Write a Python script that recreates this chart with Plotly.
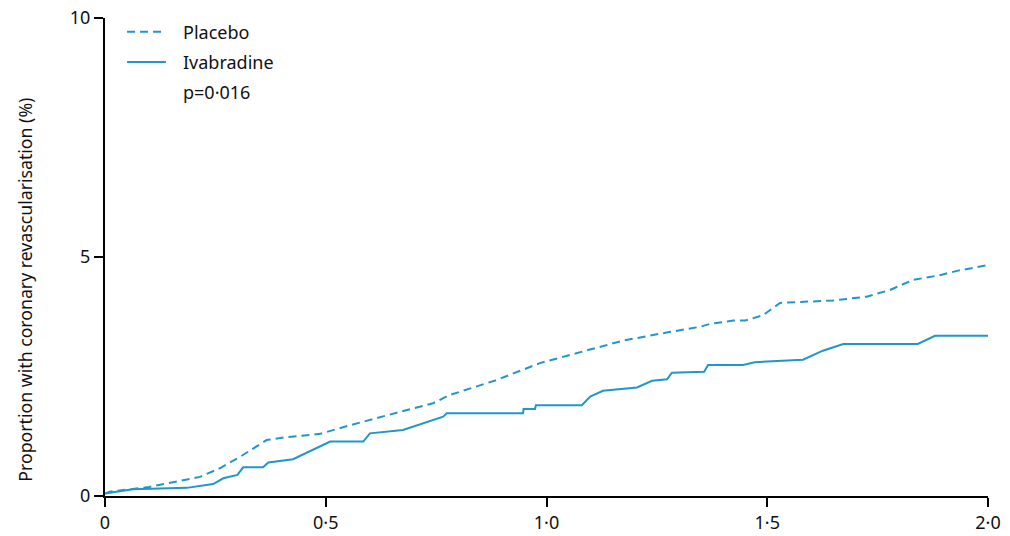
import plotly.graph_objects as go

# Years of follow-up and cumulative proportion (%)
placebo_x = [0.0, 0.011, 0.10, 0.215, 0.26, 0.306, 0.366, 0.41, 0.487, 0.555, 0.668, 0.743, 0.78,
             0.888, 0.985, 1.083, 1.173, 1.272, 1.348, 1.37, 1.423, 1.45, 1.49, 1.529, 1.649,
             1.725, 1.778, 1.83, 1.891, 1.93, 2.0]
placebo_y = [0.05, 0.09, 0.19, 0.40, 0.58, 0.82, 1.17, 1.23, 1.30, 1.48, 1.76, 1.94, 2.11,
             2.43, 2.78, 3.02, 3.25, 3.42, 3.54, 3.60, 3.67, 3.67, 3.78, 4.04, 4.09,
             4.17, 4.31, 4.52, 4.62, 4.71, 4.83]

ivab_x = [0.0, 0.011, 0.063, 0.185, 0.245, 0.268, 0.30, 0.313, 0.358, 0.37, 0.426, 0.51, 0.585,
          0.60, 0.675, 0.766, 0.774, 0.947, 0.948, 0.974, 0.976, 1.08, 1.099, 1.128, 1.205,
          1.239, 1.273, 1.284, 1.357, 1.366, 1.445, 1.472, 1.581, 1.626, 1.672, 1.841, 1.88, 2.0]
ivab_y = [0.05, 0.07, 0.14, 0.17, 0.25, 0.37, 0.44, 0.60, 0.60, 0.70, 0.77, 1.14, 1.14,
          1.31, 1.38, 1.66, 1.73, 1.73, 1.82, 1.82, 1.90, 1.90, 2.08, 2.20, 2.27,
          2.41, 2.44, 2.58, 2.60, 2.74, 2.74, 2.80, 2.85, 3.04, 3.18, 3.18, 3.35, 3.35]

x_ticks = [0, 0.5, 1.0, 1.5, 2.0]
x_tick_labels = ["0", "0·5", "1·0", "1·5", "2·0"]
y_ticks = [0, 5, 10]
y_tick_labels = ["0", "5", "10"]

series_names = ["Placebo", "Ivabradine"]
p_value_text = "p=0·016"
y_title = "Proportion with coronary revascularisation (%)"

color = "#2196c8"
font = "Noto Sans"
text_color = "#111111"

fig = go.Figure()
fig.add_trace(go.Scatter(x=placebo_x, y=placebo_y, mode="lines", name=series_names[0],
                         line=dict(color=color, width=2, dash="8px,5px"), showlegend=False))
fig.add_trace(go.Scatter(x=ivab_x, y=ivab_y, mode="lines", name=series_names[1],
                         line=dict(color=color, width=2), showlegend=False))

# Manual legend (in paper coordinates)
legend_rows = [0.971, 0.908]
dashes = ["8px,5px", "solid"]
for name, yy, dsh in zip(series_names, legend_rows, dashes):
    fig.add_shape(type="line", xref="paper", yref="paper", x0=0.025, x1=0.069, y0=yy, y1=yy,
                  line=dict(color=color, width=2, dash=dsh))
    fig.add_annotation(text=name, xref="paper", yref="paper", x=0.086, y=yy,
                       xanchor="left", yanchor="middle", showarrow=False,
                       font=dict(family=font, size=18, color=text_color))
fig.add_annotation(text=p_value_text, xref="paper", yref="paper", x=0.086, y=0.845,
                   xanchor="left", yanchor="middle", showarrow=False,
                   font=dict(family=font, size=18, color=text_color))

# Y-axis title (placed as rotated text, offset downward as in the original)
fig.add_annotation(text=y_title, xref="paper", yref="paper", x=-0.091, y=0.431,
                   xanchor="center", yanchor="middle", textangle=-90, showarrow=False,
                   font=dict(family=font, size=17.7, color=text_color))

fig.update_layout(
    width=1002, height=528,
    paper_bgcolor="white", plot_bgcolor="white",
    margin=dict(l=97, r=22, t=10, b=40, autoexpand=False),
    font=dict(family=font, size=18, color=text_color),
    showlegend=False,
    xaxis=dict(range=[0, 2.0], tickvals=x_ticks, ticktext=x_tick_labels, automargin=False,
               showline=True, linecolor="black", linewidth=2, ticks="outside",
               ticklen=9, tickwidth=2, tickcolor="black", showgrid=False, zeroline=False,
               ticklabeloverflow="allow",
               tickfont=dict(family=font, size=18, color=text_color)),
    yaxis=dict(range=[0, 10], tickvals=y_ticks, ticktext=y_tick_labels, automargin=False,
               showline=True, linecolor="black", linewidth=2, ticks="outside",
               ticklen=9, tickwidth=2, tickcolor="black", showgrid=False, zeroline=False,
               ticklabeloverflow="allow",
               tickfont=dict(family=font, size=18, color=text_color)),
)

fig.write_html("out.html")
